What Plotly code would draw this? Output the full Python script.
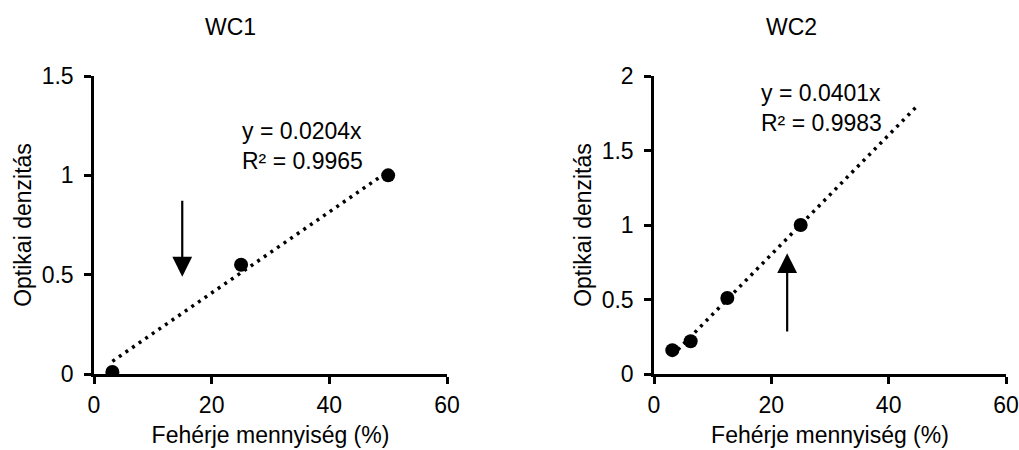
import plotly.graph_objects as go

# ---- data ----
wc1_x = [3.125, 25, 50]
wc1_y = [0.01, 0.55, 1.0]
wc1_slope = 0.0204
wc1_r2 = 0.9965
wc1_trend_x = [3.125, 50]

wc2_x = [3.125, 6.25, 12.5, 25]
wc2_y = [0.16, 0.22, 0.51, 1.0]
wc2_slope = 0.0401
wc2_r2 = 0.9983
wc2_trend_x = [3.125, 45]

titles = ["WC1", "WC2"]
x_title = "Fehérje mennyiség (%)"
y_title = "Optikai denzitás"
x_ticks = [0, 20, 40, 60]
wc1_yticks = [0, 0.5, 1, 1.5]
wc2_yticks = [0, 0.5, 1, 1.5, 2]

FONT = "Liberation Sans, Arial, sans-serif"
FS = 23
fig = go.Figure()

def add_panel(xs, ys, slope, trend_x, xa, ya):
    fig.add_trace(go.Scatter(
        x=trend_x, y=[slope * v for v in trend_x], mode="lines",
        line=dict(color="black", width=3.5, dash="3px,5px"),
        xaxis=xa, yaxis=ya, showlegend=False, hoverinfo="skip"))
    fig.add_trace(go.Scatter(
        x=xs, y=ys, mode="markers",
        marker=dict(color="black", size=14),
        xaxis=xa, yaxis=ya, showlegend=False))

add_panel(wc1_x, wc1_y, wc1_slope, wc1_trend_x, "x", "y")
add_panel(wc2_x, wc2_y, wc2_slope, wc2_trend_x, "x2", "y2")

axis_common = dict(
    showgrid=False, zeroline=False, showline=True, linecolor="black",
    linewidth=2.5, ticks="outside", tickcolor="black", tickwidth=2.5,
    ticklen=7, tickfont=dict(family=FONT, size=FS, color="black"),
    automargin=False,
)
ydom = [1 - 374 / 450, 1 - 76 / 450]

fig.update_layout(
    width=1019, height=450,
    margin=dict(l=0, r=0, t=0, b=0),
    paper_bgcolor="white", plot_bgcolor="white",
    font=dict(family=FONT, size=FS, color="black"),
    xaxis=dict(axis_common, domain=[94 / 1019, 447 / 1019], range=[0, 60],
               tickvals=x_ticks, anchor="y", ticklabelstandoff=2,
               title=dict(text=x_title, standoff=10, font=dict(size=FS))),
    yaxis=dict(axis_common, domain=ydom, range=[0, 1.5], tickvals=wc1_yticks,
               ticktext=[f"{v:g}" for v in wc1_yticks], anchor="x",
               ticklabelstandoff=6,
               title=dict(text=y_title, standoff=4, font=dict(size=FS))),
    xaxis2=dict(axis_common, domain=[654 / 1019, 1006 / 1019], range=[0, 60],
                tickvals=x_ticks, anchor="y2", ticklabelstandoff=2,
                title=dict(text=x_title, standoff=10, font=dict(size=FS))),
    yaxis2=dict(axis_common, domain=ydom, range=[0, 2], tickvals=wc2_yticks,
                ticktext=[f"{v:g}" for v in wc2_yticks], anchor="x2",
                ticklabelstandoff=6,
                title=dict(text=y_title, standoff=4, font=dict(size=FS))),
)

# subplot titles
fig.add_annotation(text=titles[0], xref="paper", yref="paper",
                   x=230 / 1019, y=1 - 27 / 450, showarrow=False,
                   font=dict(size=FS), xanchor="center", yanchor="middle")
fig.add_annotation(text=titles[1], xref="paper", yref="paper",
                   x=791 / 1019, y=1 - 27 / 450, showarrow=False,
                   font=dict(size=FS), xanchor="center", yanchor="middle")

# equations
fig.add_annotation(text=f"y = {wc1_slope}x<br>R² = {wc1_r2}", xref="x", yref="y",
                   x=35.4, y=1.15, showarrow=False, align="left",
                   font=dict(size=FS))
fig.add_annotation(text=f"y = {wc2_slope}x<br>R² = {wc2_r2}", xref="x2", yref="y2",
                   x=28.5, y=1.785, showarrow=False, align="left",
                   font=dict(size=FS))

# arrows
fig.add_annotation(x=15, y=0.49, ax=15, ay=0.88, xref="x", yref="y",
                   axref="x", ayref="y", showarrow=True, arrowhead=2,
                   arrowsize=1.8, arrowwidth=2.2, arrowcolor="black", text="")
fig.add_annotation(x=22.7, y=0.81, ax=22.7, ay=0.275, xref="x2", yref="y2",
                   axref="x2", ayref="y2", showarrow=True, arrowhead=2,
                   arrowsize=1.8, arrowwidth=2.2, arrowcolor="black", text="")

fig.write_html("out.html")
